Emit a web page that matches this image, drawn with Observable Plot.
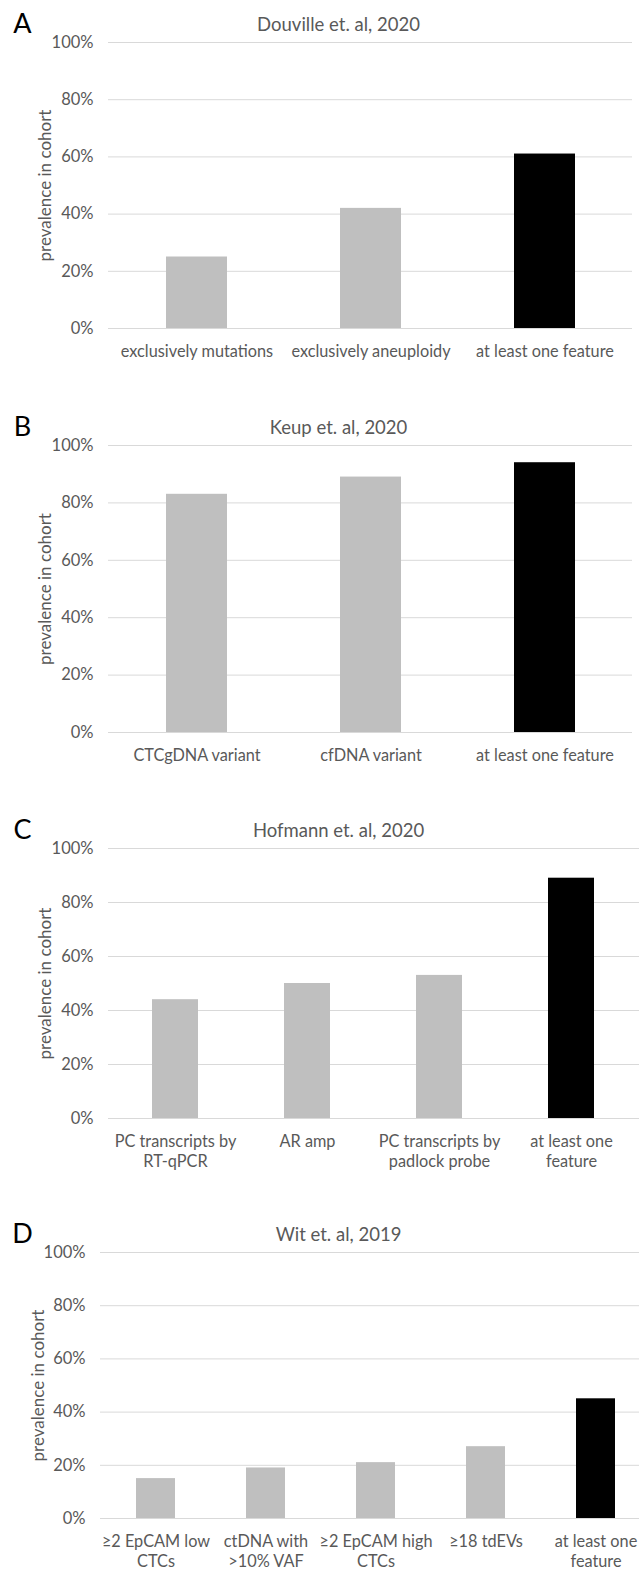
<!DOCTYPE html>
<html>
<head>
<meta charset="utf-8">
<script src="https://cdn.jsdelivr.net/npm/d3@7"></script>
<script src="https://cdn.jsdelivr.net/npm/@observablehq/plot@0.6"></script>
<style>
  html, body { margin: 0; padding: 0; background: #fff; overflow: hidden; }
  #root { position: relative; width: 639px; height: 1569px; overflow: hidden; }
  .panel { position: absolute; left: 0; }
  .panel svg { max-width: none !important; }
</style>
</head>
<body>
<div id="root"></div>
<script>
const yTicks = [0, 20, 40, 60, 80, 100];
const yLabel = "prevalence in cohort";

const catsA = ["exclusively mutations", "exclusively aneuploidy", "at least one feature"];
const valsA = [25, 42, 61];
const titleA = "Douville et. al, 2020";

const catsB = ["CTCgDNA variant", "cfDNA variant", "at least one feature"];
const valsB = [83, 89, 94];
const titleB = "Keup et. al, 2020";

const catsC = ["PC transcripts by\nRT-qPCR", "AR amp", "PC transcripts by\npadlock probe", "at least one\nfeature"];
const valsC = [44, 50, 53, 89];
const titleC = "Hofmann et. al, 2020";

const catsD = ["≥2 EpCAM low\nCTCs", "ctDNA with\n>10% VAF", "≥2 EpCAM high\nCTCs", "≥18 tdEVs", "at least one\nfeature"];
const valsD = [15, 19, 21, 27, 45];
const titleD = "Wit et. al, 2019";

const letters = ["A", "B", "C", "D"];

const TEXT = "#595959";

function panel({letter, title, cats, vals, top, height, width, marginLeft, marginRight, marginBottom, ylabelX, titleX}) {
  const data = cats.map((c, i) => ({cat: c, value: vals[i], last: i === cats.length - 1}));
  const chart = Plot.plot({
    width, height,
    marginTop: 42, marginBottom, marginLeft, marginRight,
    style: {fontFamily: "Lato, 'Open Sans', sans-serif", fontSize: "16px", color: TEXT, background: "#fff", overflow: "visible", maxWidth: "none"},
    x: {type: "band", domain: cats, paddingInner: 0.65, paddingOuter: 0.325, label: null},
    y: {domain: [0, 100], label: null},
    marks: [
      Plot.ruleY(yTicks, {stroke: "#d9d9d9", strokeWidth: 1}),
      Plot.barY(data, {x: "cat", y: "value", fill: d => d.last ? "#000000" : "#bfbfbf"}),
      Plot.axisY({ticks: yTicks, tickFormat: d => d + "%", tickSize: 0, tickPadding: 15, fontSize: 16.5, label: null}),
      Plot.axisX({tickSize: 0, tickPadding: 14, fontSize: 16.3, lineHeight: 1.25, label: null}),
      Plot.text([title], {frameAnchor: "top-left", dx: titleX - marginLeft, dy: -17, text: d => d, textAnchor: "middle", lineAnchor: "middle", fontSize: 18.5, fill: TEXT}),
      Plot.text([letter], {frameAnchor: "top-left", dx: 22 - marginLeft, dy: -18, text: d => d, textAnchor: "middle", lineAnchor: "middle", fontSize: 27, fill: "#000"}),
      Plot.text([yLabel], {frameAnchor: "left", dx: ylabelX - marginLeft, text: d => d, rotate: -90, textAnchor: "middle", lineAnchor: "middle", fontSize: 17, fill: TEXT})
    ]
  });
  const div = document.createElement("div");
  div.className = "panel";
  div.style.top = top + "px";
  div.appendChild(chart);
  document.getElementById("root").appendChild(div);
}

panel({letter: letters[0], title: titleA, cats: catsA, vals: valsA, top: 0, height: 370, width: 639, marginLeft: 108, marginRight: 7, marginBottom: 42, ylabelX: 45, titleX: 338});
panel({letter: letters[1], title: titleB, cats: catsB, vals: valsB, top: 403, height: 371, width: 639, marginLeft: 108, marginRight: 7, marginBottom: 42, ylabelX: 45, titleX: 338});
panel({letter: letters[2], title: titleC, cats: catsC, vals: valsC, top: 806, height: 367, width: 639, marginLeft: 108, marginRight: 0, marginBottom: 55, ylabelX: 45, titleX: 338});
panel({letter: letters[3], title: titleD, cats: catsD, vals: valsD, top: 1210, height: 359, width: 650, marginLeft: 100, marginRight: 0, marginBottom: 51, ylabelX: 38, titleX: 338});
</script>
</body>
</html>
